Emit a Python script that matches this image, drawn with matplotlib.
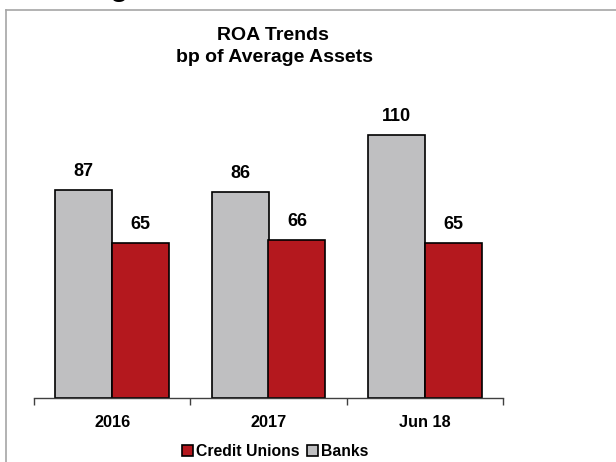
import matplotlib
matplotlib.use("Agg")
import matplotlib.pyplot as plt
import numpy as np
from matplotlib.lines import Line2D
from matplotlib.patches import Patch

# ROA in basis points of average assets
categories = ["2016", "2017", "Jun 18"]
banks = [87, 86, 110]
credit_unions = [65, 66, 65]

BANK_COLOR = "#BFBFC1"
CU_COLOR = "#B4181E"
FONT = "Liberation Sans"

plt.rcParams["font.family"] = [FONT, "DejaVu Sans"]

W, H = 616, 462
fig = plt.figure(figsize=(W / 100, H / 100), dpi=100)

# thin grey frame around the chart area
frame_kw = dict(color="#A6A6A6", lw=1.2, transform=fig.transFigure)
fig.add_artist(Line2D([6 / W, 1.0], [1 - 10 / H, 1 - 10 / H], **frame_kw))
fig.add_artist(Line2D([6 / W, 6 / W], [0.0, 1 - 10 / H], **frame_kw))

# bottom of a heading above the frame
fig.text(110 / W, 1 + 4.5 / H, "g", fontsize=22, fontweight="bold",
         ha="left", va="baseline", color="black")

ax = fig.add_axes([34 / W, 64 / H, 469 / W, 287 / H])

x = np.arange(len(categories))
width = 0.364
b1 = ax.bar(x - width / 2, banks, width, color=BANK_COLOR,
            edgecolor="black", linewidth=1.2, label="Banks", zorder=2)
b2 = ax.bar(x + width / 2, credit_unions, width, color=CU_COLOR,
            edgecolor="black", linewidth=1.2, label="Credit Unions", zorder=2)

for bars, vals in ((b1, banks), (b2, credit_unions)):
    for rect, v in zip(bars, vals):
        ax.annotate(f"{v}", (rect.get_x() + rect.get_width() / 2, v),
                    xytext=(0, 10), textcoords="offset points",
                    ha="center", va="baseline", fontsize=13,
                    fontweight="bold", color="black")

ax.set_xlim(-0.5, len(categories) - 0.5)
ax.set_ylim(0, 120)

for side in ("left", "right", "top"):
    ax.spines[side].set_visible(False)
ax.spines["bottom"].set_color("#404040")
ax.spines["bottom"].set_linewidth(1.0)
ax.set_yticks([])

ax.set_xticks(x)
ax.set_xticklabels(categories, fontsize=11.7, fontweight="bold")
ax.tick_params(axis="x", which="major", length=0, pad=12)
ax.set_xticks(np.arange(len(categories) + 1) - 0.5, minor=True)
ax.tick_params(axis="x", which="minor", length=5, width=1.0, color="#404040",
               direction="out")

fig.text(273 / W, 1 - 40 / H, "ROA Trends", ha="center", va="baseline",
         fontsize=14, fontweight="bold")
fig.text(275 / W, 1 - 62 / H, "bp of Average Assets", ha="center",
         va="baseline", fontsize=14, fontweight="bold")

handles = [Patch(facecolor=CU_COLOR, edgecolor="black", linewidth=1.2),
           Patch(facecolor=BANK_COLOR, edgecolor="black", linewidth=1.2)]
fig.legend(handles, ["Credit Unions", "Banks"], loc="center",
           bbox_to_anchor=(275 / W, 1 - 451 / H), ncol=2, frameon=False,
           prop=dict(family=FONT, weight="bold", size=11.3),
           handlelength=0.7, handleheight=0.7, handletextpad=0.2,
           columnspacing=0.5, borderpad=0, borderaxespad=0)

fig.savefig("out.png", dpi=100)
